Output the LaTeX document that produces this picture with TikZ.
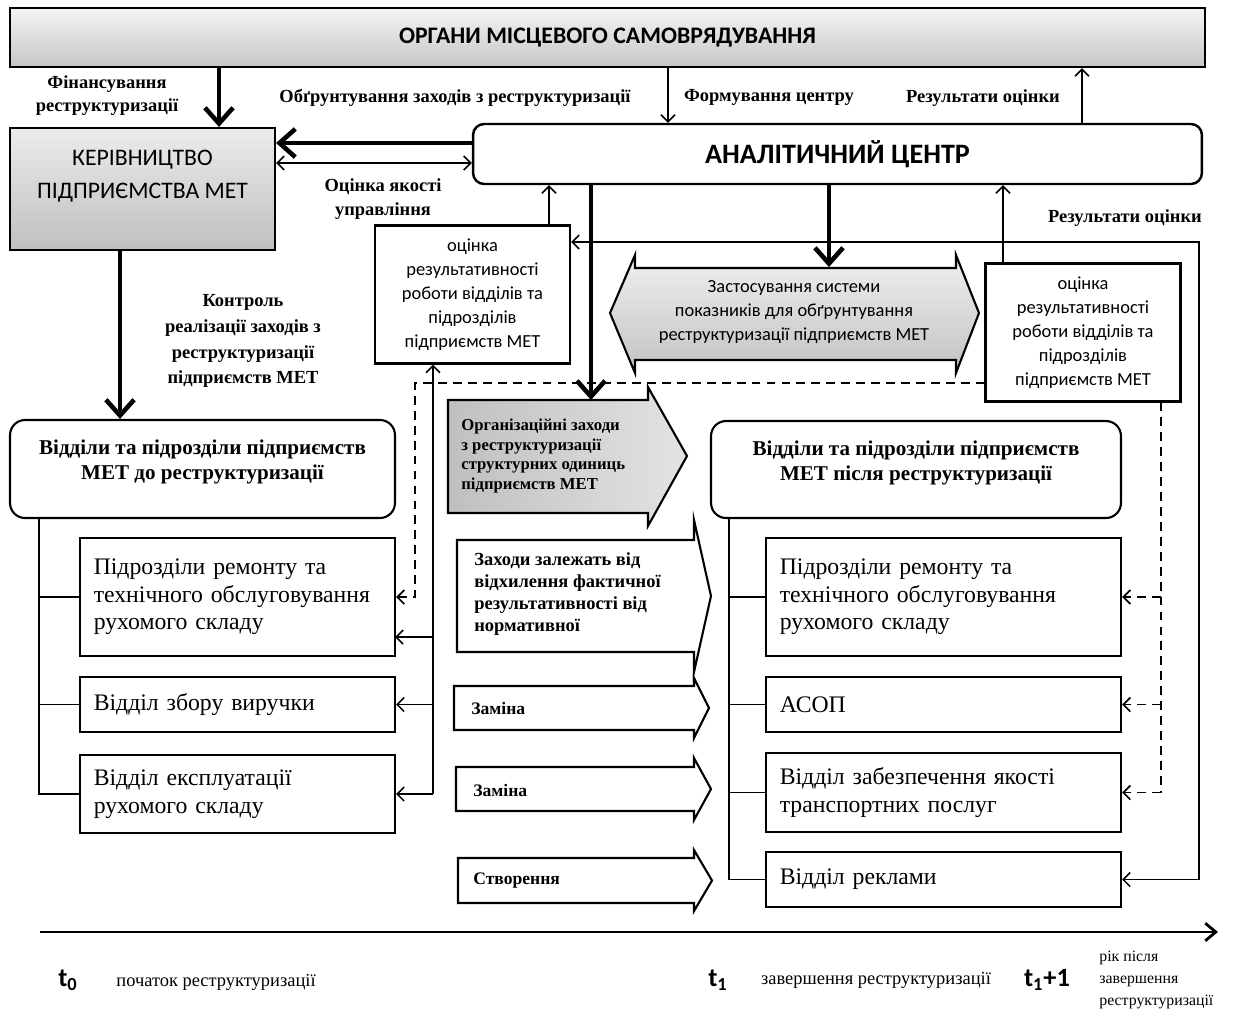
\documentclass[tikz,border=0pt]{standalone}
\usepackage{fontspec}
\setmainfont{Liberation Serif}
\newfontfamily\calib{Carlito}
\usetikzlibrary{arrows.meta, calc}

\tikzset{
  box/.style={draw, line width=1.2pt, inner sep=0pt},
  rbox/.style={box, rounded corners=0.3cm},
  dept/.style={box, align=left, inner xsep=0.275cm,
    font=\fontsize{13.5}{15.6}\selectfont},
  lab/.style={font=\bfseries\fontsize{10.5}{13}\selectfont, align=center, inner sep=0pt},
  ocbox/.style={box, minimum width=3.9cm, minimum height=2.76cm, align=center,
    font=\calib\fontsize{10.5}{13.6}\selectfont},
  conn/.style={line width=0.9pt},
  thinarrow/.style={conn, ->},
  bigarrow/.style={line width=2.6pt, -{Straight Barb[length=9pt,width=16pt]}},
  dasharrow/.style={line width=1pt, dash pattern=on 5pt off 3.5pt, ->},
  chevron/.style={draw, line width=1.2pt, fill=white},
  chtext/.style={anchor=west, align=left, inner sep=0pt,
    font=\bfseries\fontsize{10}{12.5}\selectfont}
}

\begin{document}
\begin{tikzpicture}[x=0.02cm, y=-0.02cm, >={Straight Barb[length=4pt,width=8pt]}]
    \useasboundingbox (0,0) rectangle (1235,1012);

    % Верхні блоки
    \node[box, top color=gray!8, bottom color=gray!45, minimum width=23.9cm, minimum height=1.18cm,
      font=\calib\bfseries\fontsize{13.5}{16}\selectfont] (rada) at (607.5,37.5) {ОРГАНИ МІСЦЕВОГО САМОВРЯДУВАННЯ};
    \node[box, top color=gray!15, bottom color=gray!50, minimum width=5.3cm, minimum height=2.44cm] (kerivn) at (142.5,189) {};
    \node[align=center, font=\calib\fontsize{13.5}{18.5}\selectfont] (kerivntxt) at (142.5,176) {КЕРІВНИЦТВО\\ПІДПРИЄМСТВА МЕТ};
    \node[box, rounded corners=0.22cm, line width=1.4pt, minimum width=14.58cm, minimum height=1.2cm,
      font=\calib\bfseries\fontsize{16}{19}\selectfont] (centr) at (837.5,154) {АНАЛІТИЧНИЙ ЦЕНТР};

    % Блоки оцінки
    \node[ocbox] (ocl) at (472.5,294.5) {оцінка\\результативності\\роботи відділів та\\підрозділів\\підприємств МЕТ};
    \node[ocbox] (ocr) at (1083,332.5) {оцінка\\результативності\\роботи відділів та\\підрозділів\\підприємств МЕТ};

    % Відділи до і після реструктуризації
    \node[rbox, minimum width=7.7cm, minimum height=1.96cm, align=center,
      font=\bfseries\fontsize{12}{14.2}\selectfont] (lvid) at (202.5,469) {Відділи та підрозділи підприємств\\МЕТ до реструктуризації\\[-4pt]};
    \node[rbox, minimum width=8.2cm, minimum height=1.94cm, align=center,
      font=\bfseries\fontsize{12}{14.2}\selectfont] (rvid) at (916,469.5) {Відділи та підрозділи підприємств\\МЕТ після реструктуризації\\[-4pt]};

    \node[dept, text width=5.75cm, minimum height=2.36cm] (lrem) at (237.5,597) {Підрозділи ремонту та\\технічного обслуговування\\рухомого складу};
    \node[dept, text width=5.75cm, minimum height=1.1cm] (lzbir) at (237.5,704.5) {Відділ збору виручки};
    \node[dept, text width=5.75cm, minimum height=1.56cm] (lexp) at (237.5,794) {Відділ експлуатації\\рухомого складу};

    \node[dept, text width=6.55cm, minimum height=2.36cm] (rrem) at (943.5,597) {Підрозділи ремонту та\\технічного обслуговування\\рухомого складу};
    \node[dept, text width=6.55cm, minimum height=1.1cm] (rasop) at (943.5,704.5) {АСОП};
    \node[dept, text width=6.55cm, minimum height=1.58cm] (ryak) at (943.5,792.5) {Відділ забезпечення якості\\транспортних послуг};
    \node[dept, text width=6.55cm, minimum height=1.1cm] (rrekl) at (943.5,879.5) {Відділ реклами};

    % Стрілки-заходи
    \draw[chevron, top color=gray!12, bottom color=gray!48]
      (610,313) -- (635,255) -- (635,268) -- (956,268) -- (956,255) -- (979,313)
      -- (956,373) -- (956,360) -- (635,360) -- (635,373) -- cycle;
    \node[align=center, inner sep=0pt, font=\calib\fontsize{10.5}{13.6}\selectfont] (sys) at (794,312)
      {Застосування системи\\показників для обґрунтування\\реструктуризації підприємств МЕТ};

    \draw[chevron, left color=gray!50, right color=gray!22]
      (448,400) -- (648,400) -- (648,387) -- (687,456) -- (648,526) -- (648,513) -- (448,513) -- cycle;
    \node[chtext, font=\bfseries\fontsize{9.5}{11.3}\selectfont] (org) at (461,456)
      {Організаційні заходи\\з реструктуризації\\структурних одиниць\\підприємств МЕТ};

    \foreach \l/\a/\b/\e/\t in {457/540/652/20/711, 454/686/730/8/709, 456/767/811/9/711, 458/858/903/8/712}
        \draw[chevron] (\l,\a) -- (694,\a) -- (694,{\a-\e}) -- (\t,{(\a+\b)/2})
          -- (694,{\b+\e}) -- (694,\b) -- (\l,\b) -- cycle;
    \node[chtext, font=\bfseries\fontsize{10.5}{12.5}\selectfont] (zah) at (474,594)
      {Заходи залежать від\\відхилення фактичної\\результативності від\\нормативної};
    \node[chtext] (zam1) at (471,708) {Заміна};
    \node[chtext] (zam2) at (473,790) {Заміна};
    \node[chtext] (stv) at (473,881) {Створення};

    % Допоміжні точки
    \coordinate (xfin) at (219,0);
    \coordinate (xform) at (668,0);
    \coordinate (xrez) at (1082,0);
    \coordinate (xocl) at (549,0);
    \coordinate (xocr) at (1003,0);
    \coordinate (xkon) at (120,0);
    \coordinate (xright) at (1199,0);
    \coordinate (xdl) at (415,0);
    \coordinate (xdr) at (1161,0);
    \coordinate (xsl) at (433,0);
    \coordinate (xlt) at (39,0);
    \coordinate (xrt) at (729,0);
    \coordinate (yobg) at (0,143);
    \coordinate (yocy) at (0,163);
    \coordinate (yrez) at (0,242);
    \coordinate (ydash) at (0,383);
    \coordinate (orgtop) at (591,400);
    \coordinate (systop) at (829,267);
    \coordinate (lremlow) at (395,637);

    % Товсті стрілки
    \draw[bigarrow] (rada.south -| xfin) -- (kerivn.north -| xfin);
    \draw[bigarrow] (centr.west |- yobg) -- (kerivn.east |- yobg);
    \draw[bigarrow] (kerivn.south -| xkon) -- (lvid.north -| xkon);
    \draw[bigarrow] (centr.south -| systop) -- (systop);
    \draw[bigarrow] (centr.south -| orgtop) -- (orgtop);

    % Тонкі стрілки
    \draw[conn, <->] (kerivn.east |- yocy) -- (centr.west |- yocy);
    \draw[thinarrow] (rada.south -| xform) -- (centr.north -| xform);
    \draw[thinarrow] (centr.north -| xrez) -- (rada.south -| xrez);
    \draw[thinarrow] (ocl.north -| xocl) -- (centr.south -| xocl);
    \draw[thinarrow] (ocr.north -| xocr) -- (centr.south -| xocr);
    \draw[conn, <->] (ocl.east |- yrez) -- (xright |- yrez) |- (rrekl.east);
    \draw[thinarrow, <-] (ocl.south -| xsl) -- (xsl |- lexp.east);
    \draw[thinarrow] (xsl |- lremlow) -- (lremlow);
    \foreach \b in {lzbir, lexp}
        \draw[thinarrow] (xsl |- \b.east) -- (\b.east);

    % Пунктирні зв'язки
    \draw[dasharrow] (ocr.west |- ydash) -| (xdl |- lrem.east) -- (lrem.east);
    \draw[dasharrow, -] (ocr.south -| xdr) -- (xdr |- ryak.east);
    \foreach \b in {rrem, rasop, ryak}
        \draw[dasharrow] (xdr |- \b.east) -- (\b.east);

    % Дерева відділів
    \draw[conn] (lvid.south -| xlt) |- (lexp.west);
    \foreach \b in {lrem, lzbir}
        \draw[conn] (xlt |- \b.west) -- (\b.west);
    \draw[conn] (rvid.south -| xrt) |- (rrekl.west);
    \foreach \b in {rrem, rasop, ryak}
        \draw[conn] (xrt |- \b.west) -- (\b.west);

    % Підписи
    \node[lab] (fin) at (107,96) {Фінансування\\реструктуризації};
    \node[lab] (obg) at (455,98) {Обґрунтування заходів з реструктуризації};
    \node[lab, font=\bfseries\fontsize{10.5}{14}\selectfont] (ocy) at (383,199) {Оцінка якості\\управління};
    \node[lab] (form) at (769,97) {Формування центру};
    \node[lab] (rez1) at (983,98) {Результати оцінки};
    \node[lab] (rez2) at (1125,218) {Результати оцінки};
    \node[lab, font=\bfseries\fontsize{10.5}{14.7}\selectfont] (kontr) at (243,341)
      {Контроль\\реалізації заходів з\\реструктуризації\\підприємств МЕТ};

    % Шкала часу
    \coordinate (tpoch) at (40,932);
    \coordinate (tkin) at (1218,932);
    \draw[line width=1.6pt, -{Straight Barb[length=6pt,width=10pt]}] (tpoch) -- (tkin);
    \node[font=\calib\bfseries\fontsize{15}{18}\selectfont] (t0) at (68,980) {t\textsubscript{0}};
    \node[font=\fontsize{10.5}{13}\selectfont] (t0txt) at (216,982) {початок реструктуризації};
    \node[font=\calib\bfseries\fontsize{15}{18}\selectfont] (t1) at (718,980) {t\textsubscript{1}};
    \node[font=\fontsize{10.5}{13}\selectfont] (t1txt) at (876,980) {завершення реструктуризації};
    \node[font=\calib\bfseries\fontsize{15}{18}\selectfont] (t2) at (1047,980) {t\textsubscript{1}+1};
    \node[anchor=west, align=left, inner sep=0pt, font=\fontsize{9}{12.5}\selectfont] (t2txt) at (1099,980)
      {рік після\\завершення\\реструктуризації};
\end{tikzpicture}
\end{document}
